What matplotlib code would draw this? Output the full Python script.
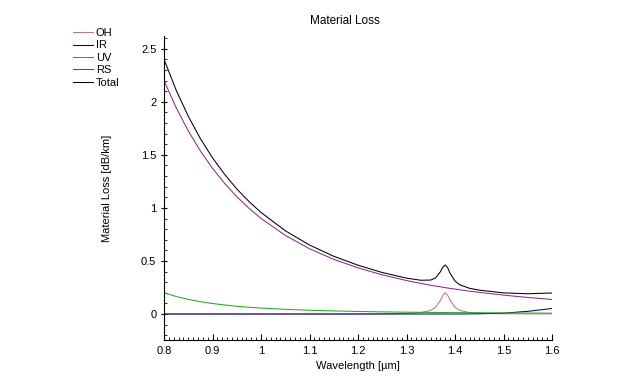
import matplotlib.pyplot as plt
from matplotlib.ticker import MultipleLocator
plt.rcParams['font.family'] = ['Liberation Sans', 'DejaVu Sans']

# wavelength samples [um] and loss components [dB/km]
wavelength = [0.80, 0.825, 0.85, 0.875, 0.90, 0.925, 0.95, 0.975, 1.00, 1.05,
              1.10, 1.15, 1.20, 1.25, 1.30, 1.33, 1.35, 1.36, 1.37, 1.375,
              1.38, 1.385, 1.39, 1.40, 1.41, 1.43, 1.45, 1.50, 1.55, 1.60]
oh = [0, 0, 0, 0, 0, 0, 0, 0, 0, 0,
      0, 0, 0.001, 0.002, 0.006, 0.014, 0.034, 0.063, 0.129, 0.176,
      0.200, 0.176, 0.129, 0.063, 0.034, 0.014, 0.007, 0.0025, 0.001, 0.001]
ir = [0, 0, 0, 0, 0, 0, 0, 0, 0, 0,
      0, 0, 0, 0, 0, 0, 0, 0, 0, 0,
      0, 0, 0, 0, 0, 0.001, 0.002, 0.008, 0.025, 0.052]
uv = [0.200, 0.165, 0.138, 0.116, 0.099, 0.085, 0.073, 0.064, 0.056, 0.044,
      0.035, 0.029, 0.024, 0.020, 0.017, 0.016, 0.015, 0.0145, 0.014, 0.014,
      0.014, 0.0135, 0.013, 0.013, 0.013, 0.012, 0.0115, 0.010, 0.009, 0.008]
rs = [2.200, 1.945, 1.726, 1.537, 1.373, 1.231, 1.106, 0.997, 0.901, 0.741,
      0.615, 0.515, 0.435, 0.369, 0.315, 0.288, 0.271, 0.263, 0.256, 0.252,
      0.248, 0.245, 0.241, 0.235, 0.228, 0.215, 0.204, 0.178, 0.156, 0.137]
total = [2.400, 2.110, 1.864, 1.653, 1.472, 1.316, 1.179, 1.061, 0.957, 0.785,
         0.650, 0.544, 0.460, 0.391, 0.338, 0.318, 0.320, 0.340, 0.399, 0.442,
         0.462, 0.435, 0.383, 0.311, 0.275, 0.242, 0.225, 0.199, 0.191, 0.198]

x_ticks = [0.8, 0.9, 1.0, 1.1, 1.2, 1.3, 1.4, 1.5, 1.6]
x_labels = ['0.8', '0.9', '1', '1.1', '1.2', '1.3', '1.4', '1.5', '1.6']
y_ticks = [0, 0.5, 1, 1.5, 2, 2.5]
y_labels = ['0', '0.5', '1', '1.5', '2', '2.5']

series = [('OH', oh, '#C07878'), ('IR', ir, '#000080'), ('UV', uv, '#22AA22'),
          ('RS', rs, '#8B2A8B'), ('Total', total, '#000000')]

fig = plt.figure(figsize=(6.44, 3.88), dpi=100)
ax = fig.add_axes([164/644, 1 - 340/388, 388/644, 304/388])

for name, vals, col in series:
    ax.plot(wavelength, vals, color=col, lw=0.75, label=name)

ax.set_xlim(0.8, 1.6)
ax.set_ylim(-0.245, 2.62)
ax.set_xticks(x_ticks)
ax.set_xticklabels(x_labels)
ax.set_yticks(y_ticks)
ax.set_yticklabels(y_labels)
ax.xaxis.set_minor_locator(MultipleLocator(0.01))
ax.yaxis.set_minor_locator(MultipleLocator(0.1))

ax.spines['top'].set_visible(False)
ax.spines['right'].set_visible(False)
for s in ('left', 'bottom'):
    ax.spines[s].set_linewidth(0.8)
ax.tick_params(axis='x', which='major', direction='in', length=4, width=0.8, labelsize=8, pad=4)
ax.tick_params(axis='x', which='minor', direction='in', length=2, width=0.6)
ax.tick_params(axis='y', which='major', direction='inout', length=5, width=0.8, labelsize=8, pad=3)
ax.tick_params(axis='y', which='minor', direction='in', length=2, width=0.6)

ax.set_xlabel('Wavelength [µm]', fontsize=8, labelpad=4)
ax.set_ylabel('Material Loss [dB/km]', fontsize=8, labelpad=21)
fig.text(345/644, 1 - 21/388, 'Material Loss', ha='center', va='center', fontsize=8.5)

fig.legend(loc='upper left', bbox_to_anchor=(73/644, 1 - 28/388), frameon=False,
           fontsize=8, handlelength=1.8, handletextpad=0.25, labelspacing=0.22,
           borderaxespad=0, borderpad=0)

plt.savefig('out.png', dpi=100)
plt.close()
